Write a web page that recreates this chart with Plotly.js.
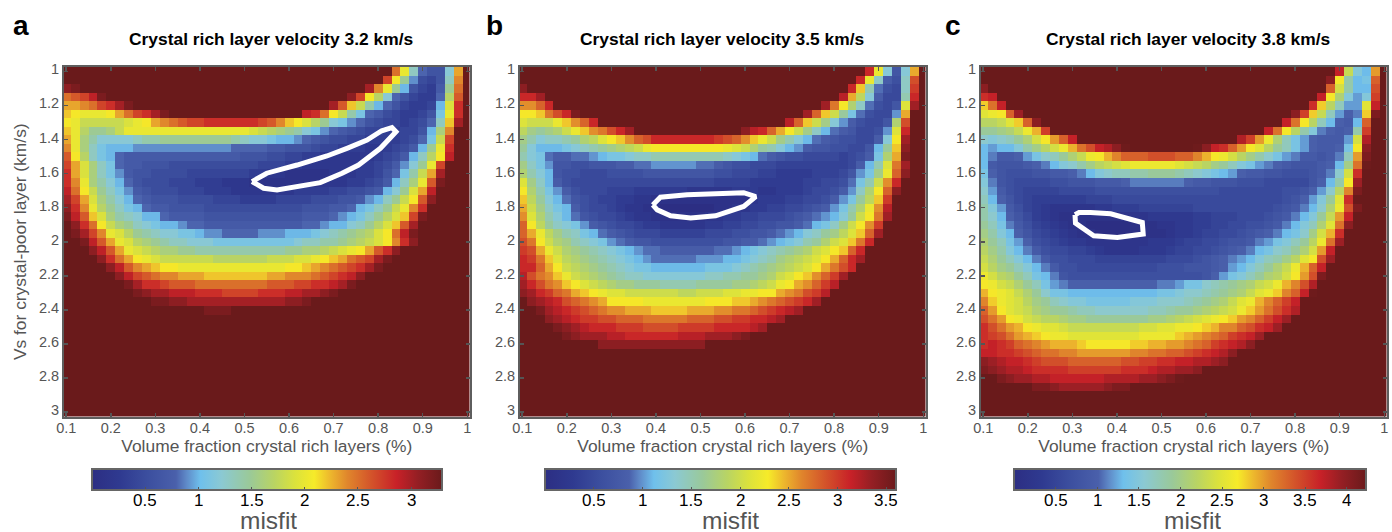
<!DOCTYPE html>
<html><head><meta charset="utf-8"><script src="https://cdn.plot.ly/plotly-3.0.1.min.js"></script>
<style>html,body{margin:0;padding:0;background:#fff}#c{width:1392px;height:532px}</style></head>
<body><div id="c"></div><script>
const W=1392,H=532;
const volumeFraction=[0.10,0.12,0.14,0.16,0.18,0.20,0.22,0.24,0.26,0.28,0.30,0.32,0.34,0.36,0.38,0.40,0.42,0.44,0.46,0.48,0.50,0.52,0.54,0.56,0.58,0.60,0.62,0.64,0.66,0.68,0.70,0.72,0.74,0.76,0.78,0.80,0.82,0.84,0.86,0.88,0.90,0.92,0.94,0.96,0.98,1.00];
const vsPoor=[1,1.05,1.1,1.15,1.2,1.25,1.3,1.35,1.4,1.45,1.5,1.55,1.6,1.65,1.7,1.75,1.8,1.85,1.9,1.95,2,2.05,2.1,2.15,2.2,2.25,2.3,2.35,2.4,2.45,2.5,2.55,2.6,2.65,2.7,2.75,2.8,2.85,2.9,2.95,3];
// Misfit x10. Each row lists segments [firstColumn, values...]; cells outside a segment are saturated (off the colour scale).
const misfitA=[
[[37,25,20,13,8,6,6,12,23]],
[[36,27,21,15,9,5,4,6,13,24]],
[[0,31,32],[34,30,24,20,15,10,6,4,3,7,15,25]],
[[0,25,26,27,29,32],[32,31,27,21,17,12,8,6,4,3,3,8,17,26]],
[[0,23,23,24,25,27,28,30,32],[30,30,26,22,18,14,10,8,6,4,3,3,4,10,19,28]],
[[0,22,21,20,20,20,21,23,25,27,28,30,32],[27,29,28,25,21,18,14,11,8,7,5,4,3,3,4,6,11,20,28]],
[[0,21,20,18,18,18,18,18,19,20,21,23,24,25,26,27,27,28,28,28,28,28,28,27,26,24,22,21,19,17,15,12,11,9,8,6,5,4,4,3,4,5,8,13,22,30]],
[[0,22,20,17,15,15,16,18,20,20,20,20,20,20,20,20,20,20,20,20,20,20,19,18,17,16,15,14,12,11,9,8,7,6,5,4,4,3,3,4,4,6,10,16,24]],
[[0,23,20,16,14,12,12,12,12,13,14,14,15,15,15,15,15,15,15,15,14,13,12,12,11,10,10,9,8,7,6,5,5,4,4,3,3,3,3,4,5,8,11,18,27]],
[[0,24,20,16,13,11,10,10,10,9,9,9,9,9,9,9,9,9,9,9,8,8,8,8,7,7,6,6,6,5,4,4,3,3,3,2,2,3,4,5,7,10,15,20,28]],
[[0,26,21,17,13,11,10,8,7,7,7,7,7,7,7,7,7,7,7,7,7,6,6,6,5,5,4,4,3,3,2,2,2,2,2,2,3,4,5,7,10,13,17,21,29]],
[[0,27,23,19,16,13,11,8,7,7,6,6,6,5,5,5,5,5,5,5,5,5,5,4,4,4,3,3,2,2,2,2,2,2,3,3,4,5,7,9,12,15,20,27]],
[[0,28,23,19,16,13,11,9,7,6,6,5,5,5,5,4,4,4,4,4,4,4,3,3,2,2,1,1,1,1,1,2,2,2,3,3,4,6,8,11,14,18,23,30]],
[[0,28,24,20,16,14,12,10,8,6,5,5,5,4,4,4,3,3,3,2,2,2,1,1,1,1,1,1,1,1,2,2,2,3,3,4,5,7,10,13,16,20,26,32]],
[[0,29,25,21,18,15,13,11,9,7,6,5,5,5,4,4,4,3,3,3,2,2,2,2,2,2,2,3,3,3,3,4,4,5,5,6,7,10,12,15,19,23,29]],
[[0,30,27,23,19,16,14,12,10,8,7,6,6,6,5,5,5,5,4,4,4,3,3,3,3,4,4,4,4,5,5,5,6,6,7,9,10,13,15,18,21,26,31]],
[[0,31,28,24,20,17,15,13,11,10,8,7,7,6,6,6,6,5,5,5,5,5,5,5,5,5,5,5,6,6,6,7,7,8,10,11,13,15,18,20,24,28]],
[[0,32,29,26,22,19,16,14,13,12,10,10,8,7,7,7,7,6,6,6,6,6,6,6,6,6,6,6,7,7,7,8,9,10,11,13,15,17,19,22,27,32]],
[[0,33,31,28,25,21,18,16,15,13,12,11,10,10,9,8,8,7,7,7,7,7,7,7,7,7,7,7,8,8,9,10,10,12,13,15,17,19,22,26,30]],
[[0,33,32,30,27,24,20,19,17,15,14,13,12,12,11,11,10,9,9,8,8,8,8,9,9,9,10,10,10,11,12,13,14,15,16,17,19,21,25,29,32]],
[[2,32,29,26,23,20,19,17,16,15,14,13,13,12,12,12,11,11,11,11,11,11,11,11,11,12,13,13,14,14,15,16,17,18,19,21,24,28,31]],
[[3,31,29,26,23,20,19,18,17,16,16,15,15,14,14,14,14,14,14,14,14,14,14,15,15,16,16,17,18,19,20,21,23,26,28,31]],
[[4,31,28,25,23,21,20,19,18,18,18,18,18,18,17,17,17,17,17,17,18,18,18,19,19,20,21,22,23,25,26,27,30,32]],
[[5,31,29,26,24,23,22,21,21,20,20,20,20,20,20,20,20,20,20,20,20,21,21,22,23,24,25,26,27,28,30,32]],
[[6,31,29,27,26,25,24,24,23,23,23,22,22,22,22,22,22,22,23,23,24,24,24,25,26,27,28,29,31]],
[[7,32,30,28,28,27,26,26,26,25,25,25,25,25,25,25,25,26,26,26,27,27,28,28,29,30,32]],
[[8,32,31,30,30,29,29,29,28,28,28,27,27,27,27,28,28,28,29,29,30,30,31,32]],
[[10,32,32,31,31,30,30,30,30,30,30,30,30,30,30,30,31,31,32]],
[[16,32,32,32]],
[],[],[],[],[],[],[],[],[],[],[],[]];
const misfitB=[
[[39,31,22,13,7,13,25]],
[[38,31,22,14,8,6,14,29]],
[[0,34],[37,31,24,15,9,6,5,14,30]],
[[0,31,31,33],[36,32,25,19,13,8,5,5,15,31]],
[[0,26,26,28,31],[34,33,27,23,18,14,9,6,5,7,21,33]],
[[0,23,23,24,27,29,31,35],[32,33,28,24,20,16,12,9,6,5,5,10,25]],
[[0,21,20,20,20,22,24,26,28,31],[30,32,28,24,20,17,13,10,8,6,5,5,7,18,29]],
[[0,19,17,16,17,18,20,22,24,26,27,29,31,33],[25,34,32,31,28,25,23,20,17,14,11,9,8,7,5,5,6,10,21,31]],
[[0,17,15,13,14,14,15,16,18,19,21,23,24,26,28,29,31,31,31,31,31,31,31,30,29,28,26,24,22,20,17,15,13,11,9,8,7,6,6,5,5,8,13,23,33]],
[[0,16,13,11,11,11,12,13,14,15,16,17,18,19,20,22,23,23,23,23,23,23,23,23,22,21,20,18,16,15,13,11,10,8,7,7,6,6,5,5,7,11,16,24,34]],
[[0,15,13,12,9,8,8,9,9,10,11,12,12,13,14,14,15,15,15,15,15,15,15,15,14,13,12,11,9,8,7,6,6,5,5,5,5,4,5,6,8,12,18,25,35]],
[[0,17,14,12,10,7,7,6,6,7,7,7,8,8,9,9,10,10,10,10,10,9,9,8,7,6,6,5,5,5,4,4,4,4,4,4,4,4,5,8,11,15,21,27,33]],
[[0,18,15,13,11,7,6,6,5,5,5,6,6,6,6,7,7,7,7,7,7,7,7,6,6,5,5,5,4,4,3,3,3,3,4,4,4,5,7,10,12,17,22,28,34]],
[[0,21,17,14,11,8,6,5,5,5,5,5,5,5,5,5,5,5,5,5,5,5,5,4,4,4,4,3,3,3,3,3,3,4,4,5,5,6,9,12,15,20,26,31]],
[[0,23,18,15,12,10,8,6,5,5,5,4,4,4,3,3,3,3,3,3,2,2,2,2,2,3,3,3,2,2,3,3,3,4,5,5,6,8,10,14,18,23,28,34]],
[[0,24,19,16,13,11,9,7,6,5,4,4,3,3,2,2,1,1,1,1,1,1,1,1,1,1,1,2,3,3,3,4,4,5,5,6,8,10,12,16,19,24,30]],
[[0,25,20,17,14,12,11,8,6,5,5,4,3,2,2,1,1,0,0,0,0,0,0,1,1,2,2,3,3,4,4,5,5,6,7,8,10,12,15,18,22,26,32]],
[[0,26,21,18,15,13,11,9,7,6,5,5,4,3,2,2,1,1,1,1,1,1,2,2,3,3,4,4,5,5,5,6,7,8,9,10,11,13,16,20,23,27,33]],
[[0,28,23,19,16,14,13,12,10,8,7,6,5,5,4,3,3,2,2,2,2,2,3,3,4,4,5,5,6,6,7,7,8,9,11,12,14,17,20,23,26,30]],
[[0,28,25,22,19,17,15,14,12,11,9,8,7,6,5,5,5,4,4,4,4,4,5,5,5,6,6,7,7,8,9,10,11,13,14,16,17,19,21,24,28,33]],
[[0,29,27,23,20,18,17,15,14,13,12,10,9,8,7,7,6,6,6,6,6,6,6,6,7,7,8,8,9,10,11,12,13,15,16,18,20,21,24,27,31]],
[[0,30,29,25,22,20,18,17,16,15,14,13,12,11,10,9,9,8,8,8,8,8,8,9,9,10,11,12,13,14,15,16,17,18,20,21,23,24,28,31]],
[[0,31,30,27,24,21,19,18,17,16,15,14,13,12,11,10,9,9,9,9,9,10,10,10,11,11,12,13,14,15,17,18,19,20,21,23,25,28,31,33]],
[[0,31,31,28,25,23,20,19,18,17,16,15,14,13,12,12,11,11,11,11,11,11,12,12,12,13,14,15,16,17,18,19,20,21,23,25,27,29,31]],
[[0,32,29,27,26,24,22,20,19,18,17,16,15,14,14,13,13,13,13,13,13,13,14,14,15,15,16,16,17,18,20,21,23,24,26,28,30,33]],
[[0,33,31,29,27,26,24,23,21,20,19,18,17,17,16,16,16,15,15,15,15,16,16,16,16,17,17,18,19,20,22,23,25,26,28,30,32]],
[[0,34,33,31,30,28,27,25,24,23,22,21,21,20,20,20,20,20,20,19,19,20,20,20,21,21,22,22,23,23,25,26,27,29,30,32]],
[[1,34,33,32,31,29,28,27,26,25,23,23,23,23,22,22,22,22,22,22,22,23,23,23,24,24,25,26,27,28,29,30,31,33]],
[[2,35,33,32,31,30,29,28,27,26,26,25,25,25,24,24,24,24,25,25,25,26,26,27,27,28,29,30,31,32,33]],
[[3,34,33,32,31,30,30,29,29,28,28,28,27,27,27,27,27,28,28,28,29,29,30,30,31,31,32,33]],
[[4,35,34,33,32,31,31,31,30,30,30,29,29,29,29,30,30,30,30,31,31,31,31,32,33]],
[[5,35,34,33,33,33,32,32,31,31,31,31,31,31,32,32,32,33,33,33,34,35]],
[[9,34,34,34,34,34,34,34,34,34,34,34,34]],
[],[],[],[],[],[],[],[]];
const misfitC=[
[[40,37,23,15,13,30]],
[[39,40,27,18,13,14,33]],
[[0,40],[39,33,24,18,13,13,34]],
[[0,36,37],[38,37,27,21,15,12,15,35]],
[[0,28,32,37],[37,36,28,22,17,12,12,25,37]],
[[0,25,26,27,33,39],[35,40,35,28,23,17,12,10,11,28,41]],
[[0,22,22,23,25,28,33,40],[34,37,32,27,22,17,13,10,9,13,33]],
[[0,19,19,20,21,23,26,29,35],[32,37,32,27,22,18,15,11,10,9,10,18,35]],
[[0,16,15,16,17,19,21,24,27,30,33,37],[29,38,35,30,26,21,17,14,12,10,9,9,9,12,24,38]],
[[0,13,12,13,13,15,18,20,22,24,26,29,32,34,37,38,40,42],[24,42,40,37,36,33,30,27,25,22,19,17,14,12,10,9,9,10,14,27,40]],
[[0,13,11,9,9,10,12,14,16,17,19,21,23,26,27,29,31,33,33,33,34,34,34,33,33,31,29,27,26,24,22,20,18,16,14,12,11,9,9,8,9,11,17,30,41]],
[[0,13,9,8,8,8,9,10,11,13,15,16,18,20,22,23,24,25,26,26,26,26,26,25,24,23,22,20,19,17,15,14,12,11,10,9,8,8,8,9,10,13,20,32,42]],
[[0,14,10,8,7,7,7,8,8,9,9,10,11,13,15,16,17,17,18,18,19,19,19,18,17,16,15,14,13,12,10,9,9,8,8,7,7,7,8,9,11,16,24,36]],
[[0,15,11,8,7,6,6,6,6,7,7,8,8,8,9,9,9,10,11,11,11,11,11,11,10,9,9,8,8,8,7,7,7,6,6,6,6,6,8,10,13,18,27,39]],
[[0,16,12,9,7,6,5,5,5,5,6,6,6,6,7,7,7,7,7,7,7,7,7,7,7,7,7,7,6,6,6,6,6,6,6,7,7,8,10,12,16,22,31,41]],
[[0,17,13,10,8,6,5,4,4,4,4,4,4,5,5,5,6,6,6,6,6,6,6,6,6,6,6,6,6,6,6,6,6,6,6,7,8,10,12,15,19,25,36]],
[[0,18,15,12,9,7,5,4,3,2,2,2,2,2,3,3,4,4,4,5,5,5,5,5,5,6,6,6,6,6,6,6,6,6,7,8,9,11,13,16,21,26,34,41]],
[[0,18,16,13,10,8,6,4,3,2,1,1,1,1,1,1,1,2,2,2,3,3,3,3,3,4,4,5,5,5,6,6,6,7,8,9,11,13,15,19,23,30,37]],
[[0,19,17,14,11,9,7,5,4,3,2,1,1,0,0,0,0,0,1,1,1,2,2,3,3,4,4,5,5,6,6,7,7,8,9,11,13,15,17,21,25,32,40]],
[[0,20,18,15,13,10,8,6,5,4,3,2,1,1,0,0,0,0,1,1,1,1,2,3,3,4,5,5,6,6,7,8,9,10,11,13,14,16,20,24,29,36]],
[[0,21,19,17,14,12,10,7,6,5,4,3,3,2,2,2,2,2,2,2,3,3,3,4,5,5,6,6,7,8,8,9,11,12,14,15,17,19,22,26,32,39]],
[[0,22,20,18,15,13,11,9,7,6,6,5,5,4,3,2,2,2,2,3,3,3,4,5,5,6,6,7,8,9,10,11,13,14,16,17,19,21,24,30,37]],
[[0,23,21,19,17,15,13,11,9,7,7,6,6,6,5,5,5,5,5,5,5,5,6,6,6,7,8,9,10,11,12,13,15,17,18,20,22,25,27,34,39]],
[[0,24,22,20,19,17,15,13,11,9,7,7,6,6,6,6,6,6,6,6,6,7,7,7,8,8,8,9,10,12,13,15,17,19,21,23,26,29,33,37]],
[[0,26,24,22,21,19,17,14,13,11,8,7,7,7,7,7,7,7,7,7,7,7,7,7,7,7,8,10,12,14,15,17,19,21,22,24,27,30,34,41]],
[[0,27,26,24,23,21,19,17,14,12,11,10,10,10,10,10,10,10,10,10,10,11,11,12,14,14,16,17,18,19,20,21,23,24,26,29,31,34,38]],
[[0,29,27,26,25,23,21,19,16,14,14,13,13,13,13,13,13,13,13,13,13,14,14,15,16,16,17,18,19,20,21,23,25,26,28,31,33,37,42]],
[[0,31,28,26,25,24,22,20,19,17,16,15,15,14,14,14,14,14,15,15,15,16,16,16,17,18,19,20,21,23,25,26,29,31,33,35,37]],
[[0,33,30,27,25,24,23,21,20,19,19,18,17,17,16,16,16,16,16,16,17,17,18,19,19,20,21,22,23,24,26,28,30,32,34,36,38]],
[[0,34,32,30,27,26,24,23,22,22,21,20,20,19,19,19,19,19,19,19,20,20,21,22,23,24,25,26,27,28,30,31,33,35,37,39]],
[[0,36,34,32,30,29,27,26,25,25,24,23,23,23,23,23,23,23,23,24,24,25,25,26,26,27,28,29,31,31,33,34,36,37,39]],
[[0,36,35,34,32,30,29,28,27,26,26,25,25,25,25,25,25,25,25,26,26,26,26,28,29,30,31,32,33,35,36,37,39]],
[[0,36,37,36,35,33,32,31,30,29,29,29,28,27,27,27,27,27,28,28,29,29,30,30,31,32,33,35,36,37,38,40]],
[[0,37,37,36,36,35,34,33,32,32,31,31,30,30,30,30,30,30,31,31,32,32,33,33,34,35,36,37,38,40]],
[[0,40,39,38,37,37,36,35,34,34,34,33,33,33,33,33,33,34,34,35,35,36,36,37,37,38,38,39,40]],
[[0,41,40,39,38,38,37,36,36,36,36,35,35,35,35,35,35,36,36,36,37,38,38,39,39,40]],
[[2,41,40,39,39,38,38,37,37,37,37,37,37,38,38,38,38,39,39,40,41,42]],
[[6,41,41,40,39,39,39,39,39,40,41,41]],
[],[],[]];
const contourAx=[0.517,0.550,0.618,0.685,0.730,0.775,0.808,0.831,0.840,0.805,0.756,0.719,0.670,0.618,0.573,0.543,0.517];
const contourAy=[1.647,1.598,1.550,1.497,1.452,1.404,1.349,1.331,1.355,1.452,1.550,1.598,1.653,1.680,1.696,1.686,1.647];
const contourBx=[0.393,0.410,0.470,0.537,0.597,0.624,0.597,0.534,0.478,0.433,0.403,0.393];
const contourBy=[1.784,1.739,1.725,1.715,1.712,1.735,1.793,1.848,1.861,1.848,1.813,1.784];
const contourCx=[0.306,0.315,0.341,0.386,0.457,0.459,0.401,0.348,0.307,0.306];
const contourCy=[1.842,1.829,1.829,1.836,1.887,1.955,1.975,1.965,1.891,1.842];
const barMax=[3.29,3.6,4.23];
const barTicks=[[0.5,1,1.5,2,2.5,3],[0.5,1,1.5,2,2.5,3,3.5],[0.5,1,1.5,2,2.5,3,3.5,4]];
const xTicks=[0.1,0.2,0.3,0.4,0.5,0.6,0.7,0.8,0.9,1];
const yTicks=[1,1.2,1.4,1.6,1.8,2,2.2,2.4,2.6,2.8,3];
const panelTitles=['Crystal rich layer velocity 3.2 km/s','Crystal rich layer velocity 3.5 km/s','Crystal rich layer velocity 3.8 km/s'];
const panelLetters=['a','b','c'];
const cs=[[0,'#2c2e83'],[0.08,'#2f3a90'],[0.16,'#3c4f9f'],[0.24,'#4a60ab'],[0.27,'#5f8ac8'],[0.31,'#6fc0ec'],[0.37,'#8bc9d3'],[0.45,'#9ac999'],[0.52,'#b9d463'],[0.58,'#dbe23c'],[0.635,'#f6eb29'],[0.68,'#edb82d'],[0.73,'#e0862c'],[0.80,'#d3522a'],[0.87,'#c82128'],[0.93,'#951f24'],[1,'#6a1a1b']];
const FONT='"Liberation Sans",Arial,sans-serif';
function grid(rows,sat){return rows.map(segs=>{const r=volumeFraction.map(()=>sat);segs.forEach(s=>s.slice(1).forEach((v,i)=>{r[s[0]+i]=v/10;}));return r;});}
const px=x=>x/W, py=y=>1-y/H;
const plotLeft=[64,520,981], plotW=405.5, plotTop=67, plotBot=416.5;
const barL=[92,545,1014], barR=[442,896,1366], titleC=[271,722,1187.5], misfitX=[268,730,1192], letterX=[10.5,484,943];
const data=[], layout={width:W,height:H,margin:{l:0,r:0,t:0,b:0,autoexpand:false},paper_bgcolor:'#fff',plot_bgcolor:'#fff',showlegend:false,font:{family:FONT},annotations:[]};
[misfitA,misfitB,misfitC].forEach((m,i)=>{
 const s=i?String(i+1):'';
 data.push({type:'heatmap',x:volumeFraction,y:vsPoor,z:grid(m,barMax[i]+0.5),zmin:0,zmax:barMax[i],colorscale:cs,xaxis:'x'+s,yaxis:'y'+s,hoverinfo:'skip',
  colorbar:{orientation:'h',xref:'paper',yref:'paper',x:px(barL[i]),xanchor:'left',y:py(469),yanchor:'top',lenmode:'pixels',len:barR[i]-barL[i],thicknessmode:'pixels',thickness:21,xpad:0,ypad:0,outlinecolor:'#666',outlinewidth:2,borderwidth:0,ticks:'inside',ticklen:4,tickwidth:1,tickcolor:'#555',tickmode:'array',tickvals:barTicks[i],showticklabels:false}});
 barTicks[i].forEach(v=>layout.annotations.push({xref:'paper',yref:'paper',x:px(barL[i]+v/barMax[i]*(barR[i]-barL[i])),y:py(500.5),xanchor:'center',yanchor:'middle',showarrow:false,height:17,borderpad:0,text:String(v),font:{family:FONT,size:17,color:'#000'}}));
 const cx=[contourAx,contourBx,contourCx][i], cy=[contourAy,contourBy,contourCy][i];
 data.push({type:'scatter',mode:'lines',x:cx,y:cy,xaxis:'x'+s,yaxis:'y'+s,line:{color:'#fff',width:5,shape:'linear'},hoverinfo:'skip'});
 const ax={domain:[px(plotLeft[i]),px(plotLeft[i]+plotW)],range:[0.095,1.005],tickmode:'array',tickvals:xTicks,ticktext:xTicks.map(String),ticks:'inside',ticklen:4,tickwidth:1.5,tickcolor:'#555',showline:true,linecolor:'#5e5e5e',linewidth:2,mirror:'ticks',showgrid:false,zeroline:false,tickfont:{family:FONT,size:14.5,color:'#555'},anchor:'y'+s,ticklabelstandoff:-3,
  title:{text:'Volume fraction crystal rich layers (%)',font:{family:FONT,size:17.4,color:'#555'},standoff:3}};
 const ay={domain:[py(plotBot),py(plotTop)],range:[3.025,0.975],tickmode:'array',tickvals:yTicks,ticktext:yTicks.map(String),ticks:'inside',ticklen:4,tickwidth:1.5,tickcolor:'#555',showline:true,linecolor:'#5e5e5e',linewidth:2,mirror:'ticks',showgrid:false,zeroline:false,tickfont:{family:FONT,size:14.5,color:'#555'},anchor:'x'+s,ticklabelshift:2};
 if(i===0) ay.title={text:'Vs for crystal-poor layer (km/s)',font:{family:FONT,size:17.4,color:'#555'},standoff:8};
 layout['xaxis'+s]=ax; layout['yaxis'+s]=ay;
 layout.annotations.push({xref:'paper',yref:'paper',x:px(titleC[i]),y:py(39),xanchor:'center',yanchor:'middle',showarrow:false,text:'<b>'+panelTitles[i]+'</b>',font:{family:FONT,size:17.4,color:'#000'}});
 layout.annotations.push({xref:'paper',yref:'paper',x:px(letterX[i]),y:py(25.5),xanchor:'left',yanchor:'middle',showarrow:false,text:'<b>'+panelLetters[i]+'</b>',font:{family:FONT,size:28,color:'#000'}});
 layout.annotations.push({xref:'paper',yref:'paper',x:px(misfitX[i]),y:py(520),xanchor:'center',yanchor:'middle',showarrow:false,height:22,borderpad:0,text:'misfit',font:{family:FONT,size:24.5,color:'#555'}});
});
Plotly.newPlot('c',data,layout,{staticPlot:true,displayModeBar:false});
</script></body></html>
